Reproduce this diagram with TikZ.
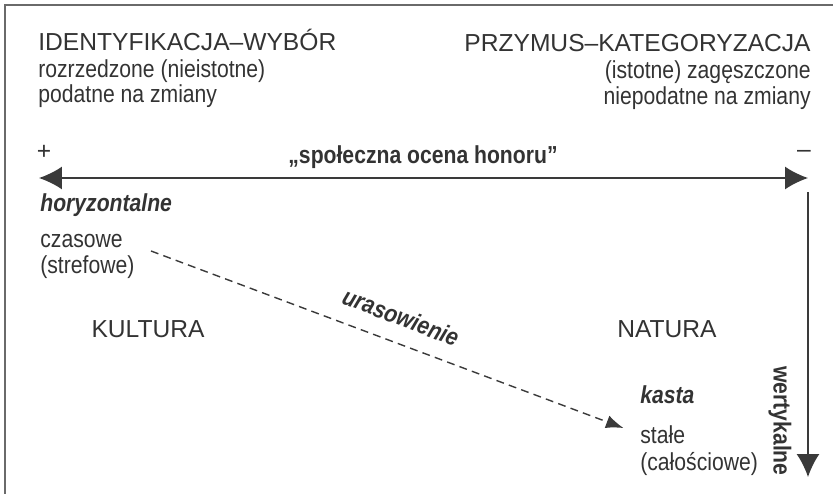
\documentclass[tikz,border=0pt]{standalone}
\usepackage{fontspec}
\setmainfont{Liberation Sans}
\newfontfamily\narrowsans[FakeStretch=0.86]{Liberation Sans}
\usepackage{tikz}
\usetikzlibrary{arrows.meta,positioning,calc}
\usepackage{xcolor}
\definecolor{axisgray}{HTML}{3A3A3A}
\definecolor{framegray}{HTML}{6A6A6A}
\definecolor{textgray}{HTML}{333333}
\tikzset{
  capslabel/.style={
    inner sep=0pt,
    text=textgray,
    font=\fontsize{14}{16}\selectfont
  },
  label/.style={
    capslabel,
    font=\fontsize{14}{16}\narrowsans
  },
  boldlabel/.style={
    label,
    font=\fontsize{14}{16}\narrowsans\bfseries
  },
  itlabel/.style={
    label,
    font=\fontsize{14}{16}\narrowsans\bfseries\itshape
  },
  frame/.style={
    draw=framegray,
    line width=1.1pt
  },
  biarrow/.style={
    {Latex[length=13pt,width=13pt]}-{Latex[length=13pt,width=13pt]},
    line width=0.85pt,
    draw=axisgray
  },
  downarrow/.style={
    -{Latex[length=13pt,width=13pt]},
    line width=0.85pt,
    draw=axisgray
  },
  dasharrow/.style={
    -{Latex[length=10pt,width=7.5pt]},
    line width=0.8pt,
    draw=axisgray,
    dash pattern=on 4.5pt off 3pt
  }
}
\begin{document}
\begin{tikzpicture}[x=0.02cm,y=-0.02cm]
\useasboundingbox (0,0) rectangle (833,494);
\draw[frame] (5,494) -- (5,5) -- (833,5);
\node[capslabel, anchor=base west] (ident) at (38,50) {IDENTYFIKACJA–WYBÓR};
\node[label, anchor=base west] (rozrz) at (38,77) {rozrzedzone (nieistotne)};
\node[label, anchor=base west] (podat) at (38,102) {podatne na zmiany};
\node[capslabel, anchor=base east] (przym) at (811,51) {PRZYMUS–KATEGORYZACJA};
\node[label, anchor=base east] (istot) at (811,78) {(istotne) zagęszczone};
\node[label, anchor=base east] (niepod) at (811,104) {niepodatne na zmiany};
\node[capslabel] (plus) at (44,152) {+};
\node[capslabel] (minus) at (804,154) {–};
\node[boldlabel, anchor=base] (honor) at (423,163) {„społeczna ocena honoru”};
\coordinate (hl) at (39,178);
\coordinate (hr) at (808,178);
\draw[biarrow] (hl) -- (hr);
\coordinate (vt) at (808,192);
\coordinate (vb) at (808,477);
\draw[downarrow] (vt) -- (vb);
\node[itlabel, anchor=base west] (horyz) at (40,211) {horyzontalne};
\node[label, anchor=base west] (czas) at (40,247) {czasowe};
\node[label, anchor=base west] (stref) at (40,273) {(strefowe)};
\node[capslabel, anchor=base] (kult) at (148,337) {KULTURA};
\node[capslabel, anchor=base] (natur) at (667,337) {NATURA};
\node[itlabel, anchor=base west] (kasta) at (640,403) {kasta};
\node[label, anchor=base west] (stale) at (640,443) {stałe};
\node[label, anchor=base west] (calos) at (640,470) {(całościowe)};
\node[boldlabel, rotate=-90] (wert) at (780,421) {wertykalne};
\node[itlabel, rotate=-21] (uras) at (401,317) {urasowienie};
\draw[dasharrow, shorten <=17pt, shorten >=10pt] (czas.east) -- (stale.west);
\end{tikzpicture}
\end{document}
